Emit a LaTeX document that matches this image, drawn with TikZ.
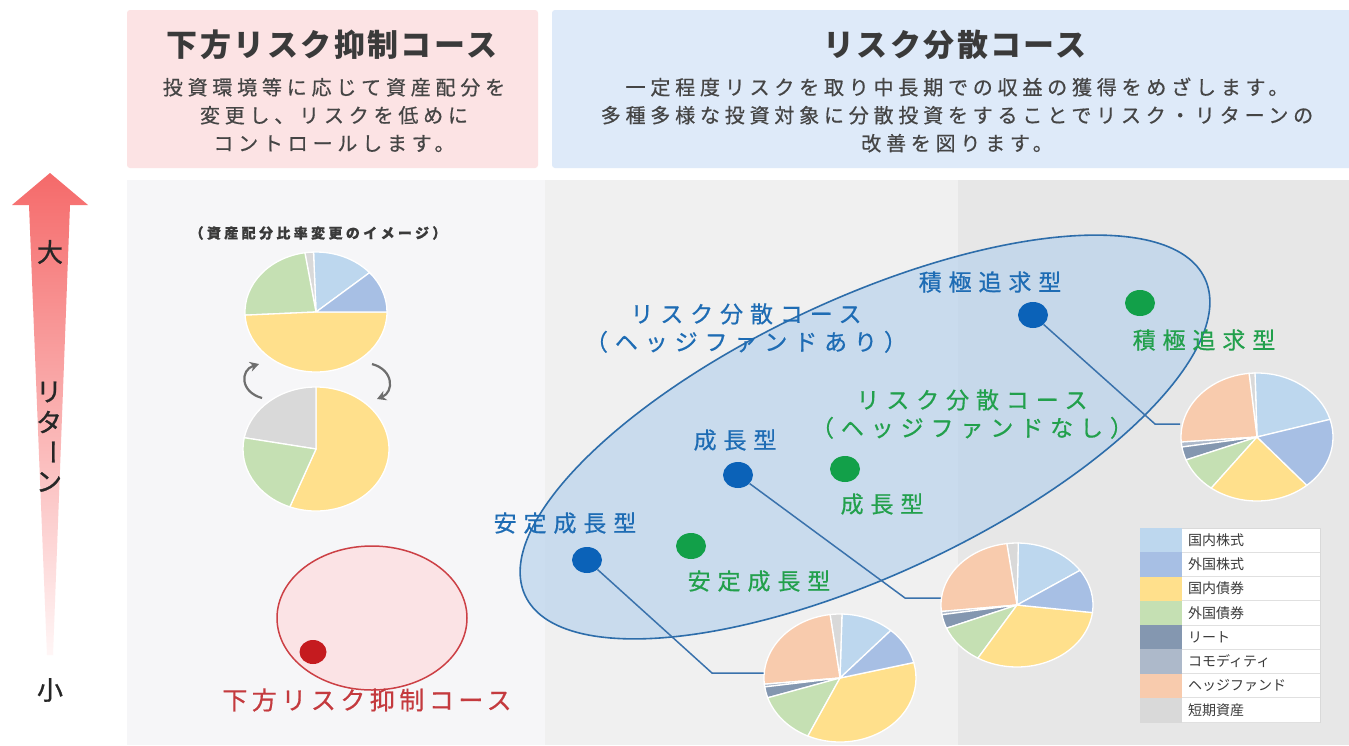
\documentclass[tikz,border=0pt]{standalone}
\usepackage{fontspec}
\setmainfont{Noto Sans CJK JP}
\newfontfamily\jpTitle[LetterSpace=8]{Noto Sans CJK JP}
\newfontfamily\jpBody[LetterSpace=24,FakeBold=0.6]{Noto Sans CJK JP}
\newfontfamily\jpLbl[LetterSpace=30,FakeBold=0.6]{Noto Sans CJK JP}
\newfontfamily\jpRed[LetterSpace=18,FakeBold=0.5]{Noto Sans CJK JP}
\newfontfamily\jpPlain{Noto Sans CJK JP}
\newfontfamily\jpAxis[FakeBold=1]{Noto Sans CJK JP}
\usetikzlibrary{shapes.geometric,arrows.meta}
\definecolor{pinkbox}{HTML}{FCE3E4}
\definecolor{bluebox}{HTML}{DEEAF9}
\definecolor{titlegray}{HTML}{3A3A3A}
\definecolor{bodygray}{HTML}{454545}
\definecolor{panelL}{HTML}{F6F6F8}
\definecolor{panelM}{HTML}{F0F0F0}
\definecolor{panelR}{HTML}{E7E7E7}
\definecolor{cJS}{HTML}{BDD7EE}
\definecolor{cFS}{HTML}{A7BFE4}
\definecolor{cJB}{HTML}{FFE08C}
\definecolor{cFB}{HTML}{C5E0B3}
\definecolor{cRE}{HTML}{8497B0}
\definecolor{cCM}{HTML}{ADB9CA}
\definecolor{cHF}{HTML}{F8CBAD}
\definecolor{cST}{HTML}{D9D9D9}
\definecolor{lblblue}{HTML}{1E6CB4}
\definecolor{lblgreen}{HTML}{22A04C}
\definecolor{dotblue}{HTML}{0B62B8}
\definecolor{dotgreen}{HTML}{12A049}
\definecolor{lblred}{HTML}{C43A3E}
\definecolor{dotred}{HTML}{C51B1F}
\definecolor{ellfill}{HTML}{B9D3EC}
\definecolor{ellline}{HTML}{2D6DAA}
\definecolor{conn}{HTML}{3A72AC}
\definecolor{ringred}{HTML}{CC4045}
\definecolor{ringfill}{HTML}{FBE3E5}
\definecolor{arrowtop}{HTML}{F56A6A}
\definecolor{arrowmid}{HTML}{F58A8A}
\definecolor{arrowbot}{HTML}{FFF6F6}
\definecolor{cyclegray}{HTML}{6E6E6E}
\newcommand{\pslice}[7]{\fill[#7, draw=white, line width=1.3pt] (#1,#2) -- ++(#5:#3 and #4) arc[start angle=#5, end angle=#6, x radius=#3, y radius=#4] -- cycle;}
\tikzset{
  titletext/.style={font=\jpTitle\bfseries\fontsize{31}{36}\selectfont, text=titlegray, inner sep=0},
  bodytext/.style={font=\jpBody\fontsize{20}{28}\selectfont, text=bodygray, align=center, inner sep=0},
  bluelbl/.style={font=\jpLbl\fontsize{23}{28}\selectfont, text=lblblue, inner sep=0, align=center},
  greenlbl/.style={font=\jpLbl\fontsize{23}{28}\selectfont, text=lblgreen, inner sep=0, align=center},
  bdot/.style={ellipse, fill=dotblue, minimum width=30, minimum height=26, inner sep=0},
  gdot/.style={ellipse, fill=dotgreen, minimum width=30, minimum height=26, inner sep=0},
  connector/.style={draw=conn, line width=1.5pt},
  axistext/.style={font=\jpAxis\fontsize{26}{30}\selectfont, text=black!85, inner sep=0},
  legtxt/.style={font=\jpPlain\fontsize{14}{16}\selectfont, text=titlegray, inner sep=0, anchor=west},
  cyclearrow/.style={draw=cyclegray, line width=2.2pt, -{Stealth[length=9pt,width=10pt]}},
}
\begin{document}
\begin{tikzpicture}[x=1pt,y=1pt]
\useasboundingbox (0,0) rectangle (1349,-745);
\fill[white] (0,0) rectangle (1349,-745);
% header boxes
\fill[pinkbox, rounded corners=3] (127,-10) rectangle (538,-168);
\fill[bluebox, rounded corners=3] (552,-10) rectangle (1352,-168);
\node[titletext] (t1) at (332,-45) {下方リスク抑制コース};
\node[bodytext] (b1) at (334,-115) {投資環境等に応じて資産配分を\\変更し、リスクを低めに\\コントロールします。};
\node[titletext] (t2) at (955,-45) {リスク分散コース};
\node[bodytext] (b2) at (957,-115) {一定程度リスクを取り中長期での収益の獲得をめざします。\\多種多様な投資対象に分散投資をすることでリスク・リターンの\\改善を図ります。};
% panels
\fill[panelL] (127,-180) rectangle (545,-745);
\fill[panelM] (545,-180) rectangle (958,-745);
\fill[panelR] (958,-180) rectangle (1349,-745);
% return arrow
\shade[top color=arrowtop, middle color=arrowmid, bottom color=arrowbot] (50,-173) -- (88,-205) -- (70,-205) -- (53,-655) -- (47,-655) -- (29,-205) -- (12,-205) -- cycle;
\node[axistext] (big) at (50,-252) {大};
\node[axistext] (r1) at (49,-392) {リ};
\node[axistext] (r2) at (49,-422) {タ};
\node[axistext, rotate=-90] (r3) at (49,-452) {ー};
\node[axistext] (r4) at (49,-482) {ン};
\node[axistext] (small) at (50,-690) {小};
% left panel
\node[font=\jpBody\bfseries\fontsize{14}{16}\selectfont, text=titlegray, inner sep=0] (cap) at (318,-233) {（資産配分比率変更のイメージ）};
\coordinate (lp1) at (316,-312);
\pslice{316}{-312}{71}{60}{41}{92}{cJS}
\pslice{316}{-312}{71}{60}{92}{99}{cST}
\pslice{316}{-312}{71}{60}{99}{183}{cFB}
\pslice{316}{-312}{71}{60}{-177}{0}{cJB}
\pslice{316}{-312}{71}{60}{0}{41}{cFS}
\coordinate (lp2) at (316,-449);
\pslice{316}{-449}{73}{62}{-111}{90}{cJB}
\pslice{316}{-449}{73}{62}{90}{169.5}{cST}
\pslice{316}{-449}{73}{62}{169.5}{249}{cFB}
\draw[cyclearrow] (262,-398) .. controls (240,-392) and (240,-370) .. (259,-364);
\draw[cyclearrow] (372,-364) .. controls (394,-370) and (394,-392) .. (377,-399);
% red ring
\filldraw[fill=ringfill, draw=ringred, line width=1.5pt] (372,-618) ellipse (95 and 72);
\node[ellipse, fill=dotred, minimum width=27, minimum height=24, inner sep=0] (rd) at (313,-652) {};
\node[font=\jpRed\fontsize{25}{28}\selectfont, text=lblred, inner sep=0] (rlbl) at (367,-700) {下方リスク抑制コース};
% blue ellipse
\filldraw[fill=ellfill, fill opacity=0.7, draw=ellline, line width=1.6pt, rotate around={25:(865,-437)}] (865,-437) ellipse (375 and 138);
% dots
\node[bdot] (bd1) at (587,-560) {};
\node[bdot] (bd2) at (738,-475) {};
\node[bdot] (bd3) at (1033,-315) {};
\node[gdot] (gd1) at (691,-546) {};
\node[gdot] (gd2) at (845,-469) {};
\node[gdot] (gd3) at (1140,-303) {};
% labels
\node[bluelbl] (lb1) at (565,-523) {安定成長型};
\node[bluelbl] (lb2) at (735,-440) {成長型};
\node[bluelbl] (lb3) at (990,-282) {積極追求型};
\node[bluelbl] (lbh) at (746,-328) {リスク分散コース\\（ヘッジファンドあり）};
\node[greenlbl] (lg1) at (759,-581) {安定成長型};
\node[greenlbl] (lg2) at (882,-504) {成長型};
\node[greenlbl] (lg3) at (1204,-340) {積極追求型};
\node[greenlbl] (lgh) at (972,-414) {リスク分散コース\\（ヘッジファンドなし）};
% connectors
\coordinate (k1) at (712,-673);
\coordinate (k1e) at (764,-673);
\coordinate (k2) at (905,-598);
\coordinate (k2e) at (941,-598);
\coordinate (k3) at (1155,-424);
\coordinate (k3e) at (1180,-424);
\draw[connector] (bd1) -- (k1) -- (k1e);
\draw[connector] (bd2) -- (k2) -- (k2e);
\draw[connector] (bd3) -- (k3) -- (k3e);
% pie A
\coordinate (pieA) at (1257,-437);
\pslice{1257}{-437}{76}{64}{16}{91.5}{cJS}
\pslice{1257}{-437}{76}{64}{91.5}{96}{cST}
\pslice{1257}{-437}{76}{64}{96}{184.5}{cHF}
\pslice{1257}{-437}{76}{64}{184.5}{189}{cCM}
\pslice{1257}{-437}{76}{64}{189}{201}{cRE}
\pslice{1257}{-437}{76}{64}{201}{233}{cFB}
\pslice{1257}{-437}{76}{64}{233}{311}{cJB}
\pslice{1257}{-437}{76}{64}{-49}{16}{cFS}
% pie B
\coordinate (pieB) at (1017,-605);
\pslice{1017}{-605}{76}{62}{34}{89}{cJS}
\pslice{1017}{-605}{76}{62}{89}{97.7}{cST}
\pslice{1017}{-605}{76}{62}{97.7}{186}{cHF}
\pslice{1017}{-605}{76}{62}{186}{189}{cCM}
\pslice{1017}{-605}{76}{62}{189}{202}{cRE}
\pslice{1017}{-605}{76}{62}{202}{239}{cFB}
\pslice{1017}{-605}{76}{62}{239}{353}{cJB}
\pslice{1017}{-605}{76}{62}{-7}{34}{cFS}
% pie C
\coordinate (pieC) at (840,-678);
\pslice{840}{-678}{76}{64}{48}{88.5}{cJS}
\pslice{840}{-678}{76}{64}{88.5}{97.5}{cST}
\pslice{840}{-678}{76}{64}{97.5}{185.5}{cHF}
\pslice{840}{-678}{76}{64}{185.5}{188}{cCM}
\pslice{840}{-678}{76}{64}{188}{198}{cRE}
\pslice{840}{-678}{76}{64}{198}{245}{cFB}
\pslice{840}{-678}{76}{64}{245}{374}{cJB}
\pslice{840}{-678}{76}{64}{14}{48}{cFS}
% legend
\filldraw[fill=white, draw=black!15, line width=0.8pt] (1140,-528) rectangle (1320,-722);
\foreach [count=\i from 0] \c/\t in {cJS/国内株式, cFS/外国株式, cJB/国内債券, cFB/外国債券, cRE/リート, cCM/コモディティ, cHF/ヘッジファンド, cST/短期資産} {
  \fill[\c] (1140,{-528-24.25*\i}) rectangle (1182,{-552.25-24.25*\i});
  \node[legtxt] (leg\i) at (1188,{-540.1-24.25*\i}) {\t};
  \draw[black!12, line width=0.6pt] (1182,{-552.25-24.25*\i}) -- (1320,{-552.25-24.25*\i});
}
\end{tikzpicture}
\end{document}
